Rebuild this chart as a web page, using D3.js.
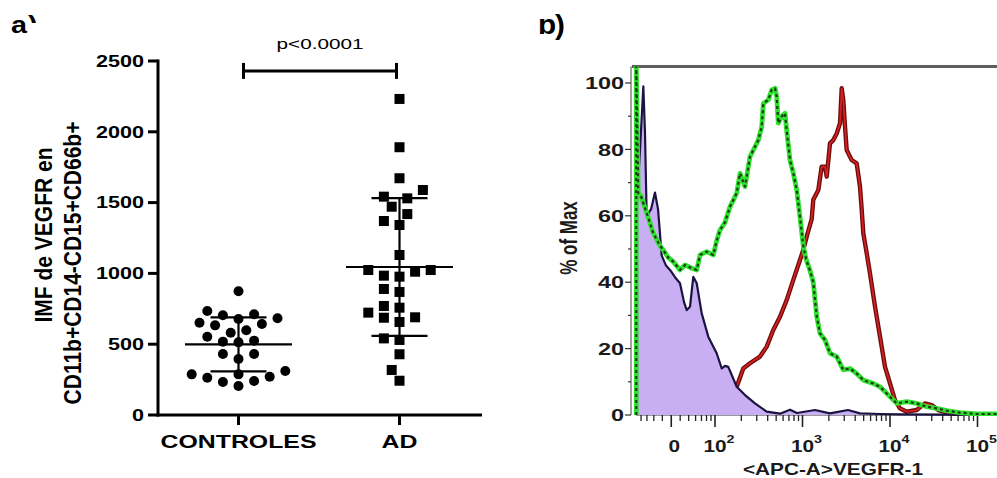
<!DOCTYPE html>
<html><head><meta charset="utf-8">
<script src="https://cdn.jsdelivr.net/npm/d3@7"></script>
<style>
html,body{margin:0;padding:0;background:#fff;}
svg{display:block;font-family:"Liberation Sans",Arial,Helvetica,sans-serif;}
</style></head><body>
<svg id="chart" width="997" height="478"></svg>
<script>
// ---------------- Panel a data ----------------
const groups = ["CONTROLES", "AD"];
const controlValues = [874, 734, 711, 704, 683, 678, 652, 643, 633, 598, 581, 553, 525, 518, 513,
  431, 431, 395, 311, 287, 287, 270, 263, 240, 233, 205];
const adValues = [2232, 1891, 1672, 1589, 1542, 1530, 1471, 1419, 1370, 1342, 1130, 1024, 1024, 1012,
  984, 977, 890, 869, 770, 758, 723, 690, 687, 657, 541, 530, 429, 318, 242];
const yTicksA = [0, 500, 1000, 1500, 2000, 2500];
const yLabelLines = ["IMF de VEGFR en", "CD11b+CD14-CD15+CD66b+"];
const pValueLabel = "p<0.0001";
const bracketValue = 2430;

// ---------------- Panel b data ----------------
// x in display decades of the <APC-A> channel, y in % of max
const isotypeCurve = [[1.1,60],[1.143,80],[1.181,99],[1.2,85],[1.219,60],[1.269,62],[1.314,67],[1.349,62],
  [1.391,48],[1.44,45],[1.486,43.7],[1.543,41.5],[1.6,39.7],[1.646,34],[1.677,31.6],[1.714,32.6],
  [1.752,41.6],[1.791,39.7],[1.848,30.6],[1.923,23.6],[2.019,18.6],[2.077,14],[2.114,14.8],[2.152,14.5],
  [2.248,8.5],[2.343,6],[2.457,3.5],[2.591,1],[2.743,0.4],[2.857,1.6],[2.937,0.6],[3.143,1.5],[3.314,0.5],
  [3.52,1.5],[3.657,0.5],[3.886,0.3],[4.114,0.2],[5.3,0]];
const vegfrCurveGreen = [[1.1,0],[1.1,106],[1.123,66.8],[1.154,66],[1.181,63.8],[1.234,59.7],[1.291,55],
  [1.371,51],[1.409,49.7],[1.463,47.5],[1.523,46.2],[1.6,43.7],[1.657,45.2],[1.734,44.2],[1.791,43.7],
  [1.829,48.2],[1.905,49.2],[1.981,48.2],[2.019,52.5],[2.057,55.7],[2.114,58],[2.171,62.7],[2.248,66.8],
  [2.286,72.8],[2.343,68.8],[2.4,77.8],[2.457,80.8],[2.495,82.8],[2.534,86.8],[2.552,93.8],[2.609,94.9],
  [2.648,97.9],[2.686,98.4],[2.705,95.9],[2.723,87.9],[2.762,89.9],[2.8,90.9],[2.819,85.8],[2.857,76.8],
  [2.895,72.8],[2.934,67.8],[2.971,59.7],[3.009,51],[3.04,47],[3.086,43.5],[3.123,40],[3.163,29.6],
  [3.2,24.6],[3.257,22.6],[3.314,18.6],[3.391,17.6],[3.466,13.6],[3.543,14],[3.619,12.5],[3.695,10.5],
  [3.809,9.5],[3.886,8.5],[3.962,6.5],[4.077,3.5],[4.191,4],[4.305,3.5],[4.419,2.5],[4.534,2],[4.648,1.3],
  [4.8,0.7],[4.991,0.3],[5.3,0.3]];
const vegfrCurveRed = [[1.829,3],[2.057,6],[2.248,8.5],[2.323,14],[2.4,15.6],[2.514,17.6],[2.591,20.6],
  [2.666,25.6],[2.743,29.6],[2.819,34.6],[2.895,40.7],[2.971,46.7],[3.009,49.7],[3.051,54],[3.105,59],
  [3.123,64.8],[3.181,67.8],[3.219,74.8],[3.257,74.8],[3.277,71.8],[3.314,81.8],[3.352,82.8],[3.391,84.8],
  [3.429,87.9],[3.448,98.4],[3.466,94.9],[3.486,86.8],[3.505,79.8],[3.562,76.8],[3.619,75.8],[3.657,68.8],
  [3.677,61.7],[3.695,54.7],[3.734,48.7],[3.771,42.7],[3.829,32.6],[3.886,23.6],[3.943,14.5],[4.0,9.5],
  [4.057,4.5],[4.114,2],[4.191,1],[4.305,1.5],[4.4,3.5],[4.476,3],[4.552,1.5],[4.686,0.5],[4.857,0],[5.3,0]];
const yTicksB = [0, 20, 40, 60, 80, 100];
const xMajorTicksB = [1.5, 2, 3, 4, 5];
const xMajorLabelsB = [["0",""],["10","2"],["10","3"],["10","4"],["10","5"]];
const yLabelB = "% of Max";
const xLabelB = "<APC-A>VEGFR-1";

// ---------------- drawing ----------------
const svg = d3.select("#chart");
const SX = 1.37; // horizontal glyph stretch of the source figure

function stretchedText(parent, x, y, txt, o) {
  const g = parent.append("g").attr("transform", `translate(${x},${y}) scale(${o.sx || SX},1)` + (o.rot ? ` rotate(${o.rot})` : ""));
  const t = g.append("text").text(txt)
    .attr("font-size", o.size).attr("font-weight", o.weight || "bold")
    .attr("text-anchor", o.anchor || "middle").attr("fill", o.fill || "#000");
  if (o.dy) t.attr("dy", o.dy);
  return t;
}

// ===== Panel a =====
const a = svg.append("g");
const xA = d3.scalePoint().domain(groups).range([158, 480]).padding(0.5);
const yA = d3.scaleLinear().domain([0, 2500]).range([415, 61]);

// axes
a.append("line").attr("x1", 158).attr("x2", 158).attr("y1", yA(2500) - 1.5).attr("y2", yA(0) + 1.5)
  .attr("stroke", "#000").attr("stroke-width", 3);
a.append("line").attr("x1", 156.5).attr("x2", 482).attr("y1", yA(0)).attr("y2", yA(0))
  .attr("stroke", "#000").attr("stroke-width", 3);
yTicksA.forEach(v => {
  a.append("line").attr("x1", 148).attr("x2", 158).attr("y1", yA(v)).attr("y2", yA(v))
    .attr("stroke", "#000").attr("stroke-width", 3);
  stretchedText(a, 144, yA(v), String(v), {size: 16, anchor: "end", dy: "0.36em", sx: 1.35});
});
groups.forEach(gname => {
  a.append("line").attr("x1", xA(gname)).attr("x2", xA(gname)).attr("y1", yA(0)).attr("y2", yA(0) + 10)
    .attr("stroke", "#000").attr("stroke-width", 3);
  stretchedText(a, xA(gname), 448, gname, {size: 18, sx: 1.38});
});

// y label (two lines)
const yLabelCenters = [235, 263];
yLabelLines.forEach((ln, i) => {
  stretchedText(a, 52 + i * 28.5, yLabelCenters[i], ln, {size: 21, rot: -90, sx: 1.1});
});

// beeswarm layout (ascending order, lowest at centre)
function swarm(values, cx, slot, minDist) {
  const placed = [];
  values.slice().sort((p, q) => p - q).forEach(v => {
    const y = yA(v);
    for (let k = 0; k < 60; k++) {
      const off = k === 0 ? 0 : (k % 2 ? -Math.ceil(k / 2) : Math.ceil(k / 2)) * slot;
      const x = cx + off;
      if (placed.every(q => Math.hypot(q.x - x, q.y - y) >= minDist)) { placed.push({x, y, v}); break; }
    }
  });
  return placed;
}

const series = [
  {name: "CONTROLES", values: controlValues, shape: "circle"},
  {name: "AD", values: adValues, shape: "square"}
];
series.forEach(s => {
  const cx = xA(s.name);
  const pts = swarm(s.values, cx, 7.8, 11.6);
  const m = d3.mean(s.values), sd = d3.deviation(s.values);
  if (s.shape === "circle") {
    a.append("g").selectAll("circle").data(pts).join("circle")
      .attr("cx", d => d.x).attr("cy", d => d.y).attr("r", 5).attr("fill", "#000");
  } else {
    a.append("g").selectAll("rect").data(pts).join("rect")
      .attr("x", d => d.x - 5).attr("y", d => d.y - 5).attr("width", 10).attr("height", 10).attr("fill", "#000");
  }
  const lg = a.append("g").attr("stroke", "#000").attr("stroke-width", 2.2);
  lg.append("line").attr("x1", cx - 53.5).attr("x2", cx + 53.5).attr("y1", yA(m)).attr("y2", yA(m));
  lg.append("line").attr("x1", cx).attr("x2", cx).attr("y1", yA(m + sd)).attr("y2", yA(m - sd));
  [m + sd, m - sd].forEach(v => lg.append("line").attr("x1", cx - 28).attr("x2", cx + 28).attr("y1", yA(v)).attr("y2", yA(v)));
});

// significance bracket
const bx1 = xA("CONTROLES") + 5, bx2 = xA("AD") - 3, by = yA(bracketValue);
const bg = a.append("g").attr("stroke", "#000").attr("stroke-width", 3);
bg.append("line").attr("x1", bx1).attr("x2", bx2).attr("y1", by).attr("y2", by);
bg.append("line").attr("x1", bx1).attr("x2", bx1).attr("y1", by - 8).attr("y2", by + 8);
bg.append("line").attr("x1", bx2).attr("x2", bx2).attr("y1", by - 8).attr("y2", by + 8);
stretchedText(a, (bx1 + bx2) / 2, 49, pValueLabel, {size: 15, weight: "normal", sx: 1.38});

// panel letters (partly cropped in the source)
const defs = svg.append("defs");
defs.append("clipPath").attr("id", "clipParenA").append("rect").attr("x", 0).attr("y", 0).attr("width", 60).attr("height", 23);
defs.append("clipPath").attr("id", "clipB").append("rect").attr("x", 520).attr("y", 19).attr("width", 60).attr("height", 40);
stretchedText(svg, 11, 33, "a", {size: 24, anchor: "start", sx: 1.2});
stretchedText(svg.append("g").attr("clip-path", "url(#clipParenA)"), 28, 33, ")", {size: 24, anchor: "start", sx: 1.2});
stretchedText(svg.append("g").attr("clip-path", "url(#clipB)"), 538, 34, "b", {size: 27, anchor: "start", sx: 1.1});
stretchedText(svg, 555, 34, ")", {size: 27, anchor: "start", sx: 1.1});

// ===== Panel b =====
const b = svg.append("g");
const xB = d3.scaleLinear().domain([2, 5]).range([715, 977.5]);
const yB = d3.scaleLinear().domain([0, 100]).range([415, 83]);
const plotL = xB(1.1), plotT = yB(105), plotR = 997, plotB = yB(0);

b.append("clipPath").attr("id", "plotClip").append("rect")
  .attr("x", plotL - 3).attr("y", plotT).attr("width", plotR - plotL + 3).attr("height", plotB - plotT + 1);

// y axis
b.append("line").attr("x1", 631).attr("x2", 631).attr("y1", plotT).attr("y2", plotB)
  .attr("stroke", "#444").attr("stroke-width", 1);
d3.range(0, 101, 10).forEach(v => {
  const major = v % 20 === 0;
  b.append("line").attr("x1", major ? 625 : 628).attr("x2", 631).attr("y1", yB(v)).attr("y2", yB(v))
    .attr("stroke", "#333").attr("stroke-width", 1.2);
});
yTicksB.forEach(v => stretchedText(b, 624, yB(v), String(v), {size: 17, anchor: "end", dy: "0.36em", fill: "#1a1a1a", sx: 1.38}));
stretchedText(b, 577, 238, yLabelB, {size: 17, rot: -90, fill: "#1a1a1a", sx: 1.45});

// x axis ticks
b.append("line").attr("x1", plotL).attr("x2", plotR).attr("y1", plotB).attr("y2", plotB)
  .attr("stroke", "#333").attr("stroke-width", 1);
const minorTicks = [];
[2, 3, 4].forEach(n => d3.range(2, 10).forEach(k => minorTicks.push(n + Math.log10(k))));
d3.range(4, 10).forEach(k => minorTicks.push(1 + Math.log10(k)));
d3.range(4, 10).forEach(k => { const t = 2 * 1.5 - (1 + Math.log10(k)); if (t > 1.12) minorTicks.push(t); });
minorTicks.push(5 + Math.log10(2));
minorTicks.forEach(t => b.append("line").attr("x1", xB(t)).attr("x2", xB(t)).attr("y1", plotB).attr("y2", plotB + 6)
  .attr("stroke", "#222").attr("stroke-width", 1.3));
xMajorTicksB.forEach(t => b.append("line").attr("x1", xB(t)).attr("x2", xB(t)).attr("y1", plotB).attr("y2", plotB + 12)
  .attr("stroke", "#222").attr("stroke-width", 1.6));
xMajorTicksB.forEach((t, i) => {
  const [base, exp] = xMajorLabelsB[i];
  const txt = stretchedText(b, xB(t) + (exp ? 4 : 3), 452, base, {size: 16, fill: "#1a1a1a", sx: 1.3});
  if (exp) txt.append("tspan").text(exp).attr("font-size", 11).attr("dy", -9);
});
stretchedText(b, 833, 475, xLabelB, {size: 16, fill: "#1a1a1a", sx: 1.3});

// frame top
b.append("line").attr("x1", 632).attr("x2", plotR).attr("y1", plotT).attr("y2", plotT)
  .attr("stroke", "#5e5e5e").attr("stroke-width", 3);

// curves
const cg = b.append("g").attr("clip-path", "url(#plotClip)");
const line = d3.line().x(d => xB(d[0])).y(d => yB(d[1]));
const area = d3.area().x(d => xB(d[0])).y0(yB(0)).y1(d => yB(d[1]));

cg.append("path").datum(vegfrCurveRed).attr("d", line).attr("fill", "none").attr("stroke", "#6b0d0d").attr("stroke-width", 4.4).attr("stroke-linejoin", "round");
cg.append("path").datum(vegfrCurveRed).attr("d", line).attr("fill", "none").attr("stroke", "#d42020").attr("stroke-width", 1.8).attr("stroke-linejoin", "round");
cg.append("path").datum(isotypeCurve).attr("d", area).attr("fill", "#c8aef2");
cg.append("path").datum(isotypeCurve).attr("d", line).attr("fill", "none").attr("stroke", "#1b1340").attr("stroke-width", 2.2).attr("stroke-linejoin", "round");
cg.append("path").datum(vegfrCurveGreen).attr("d", line).attr("fill", "none").attr("stroke", "#2fe02f").attr("stroke-width", 4.8).attr("stroke-linejoin", "round");
cg.append("path").datum(vegfrCurveGreen).attr("d", line).attr("fill", "none").attr("stroke", "#1d3a12").attr("stroke-width", 2.2).attr("stroke-dasharray", "3,3").attr("stroke-linejoin", "round");
</script>
</body></html>
